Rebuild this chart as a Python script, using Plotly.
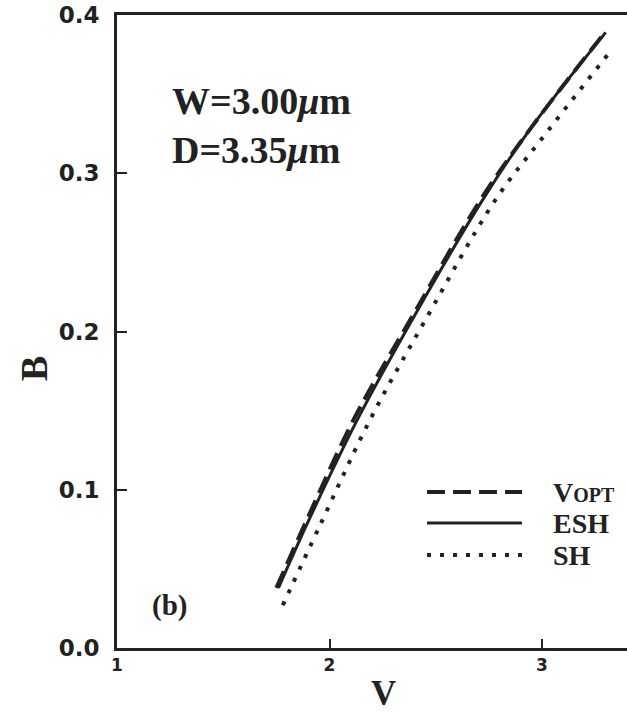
import plotly.graph_objects as go

# ---- data ----
v_vopt = [1.75, 1.90, 2.12, 2.40, 2.71, 2.95, 3.29]
b_vopt = [0.038, 0.083, 0.146, 0.212, 0.283, 0.329, 0.388]

v_esh = [1.76, 1.90, 2.13, 2.40, 2.72, 2.95, 3.30]
b_esh = [0.038, 0.080, 0.144, 0.210, 0.283, 0.329, 0.389]

v_sh = [1.78, 1.95, 2.19, 2.45, 2.78, 3.00, 3.31]
b_sh = [0.027, 0.076, 0.144, 0.207, 0.283, 0.322, 0.375]

x_ticks = [1, 2, 3]
y_ticks = [0.0, 0.1, 0.2, 0.3, 0.4]
y_tick_labels = ["0.0", "0.1", "0.2", "0.3", "0.4"]

legend_labels = ["V<span style='font-size:20px'>OPT</span>", "ESH", "SH"]
legend_dashes = ["18px,8px", "solid", "4px,9px"]
legend_widths = [4, 3, 4]

SERIF = "Liberation Serif, Times New Roman, serif"
SANS = "DejaVu Sans, Verdana, sans-serif"

fig = go.Figure()
fig.add_trace(go.Scatter(x=v_vopt, y=b_vopt, mode="lines", line_shape="spline",
                         line=dict(color="#222", width=4, dash="18px,8px"), name="VOPT"))
fig.add_trace(go.Scatter(x=v_esh, y=b_esh, mode="lines", line_shape="spline",
                         line=dict(color="#222", width=3), name="ESH"))
fig.add_trace(go.Scatter(x=v_sh, y=b_sh, mode="lines", line_shape="spline",
                         line=dict(color="#222", width=4, dash="4px,9px"), name="SH"))

fig.update_layout(
    width=627, height=716,
    margin=dict(l=117, r=0, t=15, b=68),
    paper_bgcolor="white", plot_bgcolor="white",
    showlegend=False,
)
fig.update_xaxes(
    range=[1, 3.4], tickvals=x_ticks, ticktext=[str(t) for t in x_ticks],
    showgrid=False, zeroline=False,
    showline=True, linecolor="#222", linewidth=3, mirror=True,
    ticks="inside", ticklen=9, tickwidth=2, tickcolor="#222",
    tickfont=dict(family=SANS, size=17, color="#222", weight="bold"),
)
fig.update_yaxes(
    range=[0, 0.4], tickvals=y_ticks, ticktext=y_tick_labels,
    showgrid=False, zeroline=False,
    showline=True, linecolor="#222", linewidth=3,
    ticks="inside", ticklen=10, tickwidth=2, tickcolor="#222",
    ticklabelstandoff=10,
    tickfont=dict(family=SANS, size=23, color="#222", weight="bold"),
)

# axis titles
fig.add_annotation(text="<b>V</b>", xref="paper", yref="paper", x=(383 - 117) / 510, y=-(693 - 648) / 633,
                   showarrow=False, font=dict(family=SERIF, size=35, color="#222"),
                   xanchor="center", yanchor="middle")
fig.add_annotation(text="<b>B</b>", xref="paper", yref="paper", x=-(117 - 34) / 510, y=(648 - 369) / 633,
                   showarrow=False, textangle=-90, font=dict(family=SERIF, size=38, color="#222"),
                   xanchor="center", yanchor="middle")

# parameter text
fig.add_annotation(text="<b>W=3.00<i>μ</i>m</b>", xref="paper", yref="paper",
                   x=(170 - 117) / 510, y=(648 - 101) / 633, showarrow=False,
                   font=dict(family=SERIF, size=38, color="#222"), xanchor="left", yanchor="middle")
fig.add_annotation(text="<b>D=3.35<i>μ</i>m</b>", xref="paper", yref="paper",
                   x=(170 - 117) / 510, y=(648 - 150) / 633, showarrow=False,
                   font=dict(family=SERIF, size=38, color="#222"), xanchor="left", yanchor="middle")
fig.add_annotation(text="<b>(b)</b>", xref="paper", yref="paper",
                   x=(150 - 117) / 510, y=(648 - 605) / 633, showarrow=False,
                   font=dict(family=SERIF, size=29, color="#222"), xanchor="left", yanchor="middle")

# manual legend
leg_y = [492, 523, 555]
for lab, dash, w, py in zip(legend_labels, legend_dashes, legend_widths, leg_y):
    yp = (648 - py) / 633
    fig.add_shape(type="line", xref="paper", yref="paper",
                  x0=(427 - 117) / 510, x1=(522 - 117) / 510, y0=yp, y1=yp,
                  line=dict(color="#222", width=w, dash=dash))
    fig.add_annotation(text="<b>" + lab + "</b>", xref="paper", yref="paper",
                       x=(551 - 117) / 510, y=yp, showarrow=False,
                       font=dict(family=SERIF, size=28, color="#222"),
                       xanchor="left", yanchor="middle")

fig.write_html("out.html")
